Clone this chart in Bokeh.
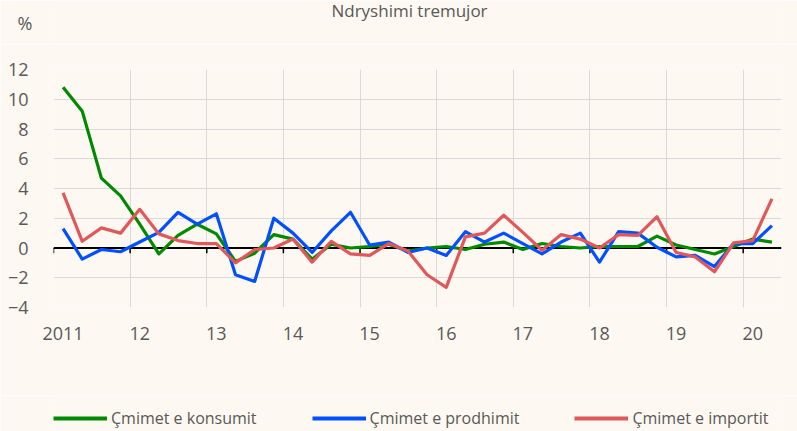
import numpy as np
from bokeh.plotting import figure
from bokeh.layouts import column
from bokeh.models import (Range1d, FixedTicker, Legend, LegendItem, Span, Label,
                          ColumnDataSource, LinearAxis)
from bokeh.embed import file_html
from bokeh.resources import INLINE

# ---- data -------------------------------------------------------------
years = ["2011", "12", "13", "14", "15", "16", "17", "18", "19", "20"]
quarters = [f"{2011 + i // 4}Q{i % 4 + 1}" for i in range(38)]

konsumit = [10.8, 9.2, 4.7, 3.5, 1.6, -0.4, 0.85, 1.6, 0.95, -0.9,
            -0.35, 0.9, 0.6, -0.75, 0.25, 0.0, 0.1, 0.25, -0.2, 0.0,
            0.1, -0.1, 0.25, 0.4, -0.1, 0.3, 0.1, 0.0, 0.1, 0.1,
            0.1, 0.8, 0.2, -0.1, -0.4, 0.1, 0.6, 0.4]
prodhimit = [1.3, -0.75, -0.1, -0.25, 0.4, 1.05, 2.4, 1.6, 2.3, -1.8,
             -2.25, 2.0, 1.0, -0.3, 1.15, 2.4, 0.2, 0.4, -0.3, 0.0,
             -0.5, 1.1, 0.4, 1.0, 0.3, -0.4, 0.4, 1.0, -0.95, 1.1,
             1.0, 0.05, -0.6, -0.5, -1.25, 0.3, 0.3, 1.5]
importit = [3.7, 0.45, 1.35, 1.0, 2.6, 0.95, 0.5, 0.3, 0.3, -1.0,
            -0.1, 0.0, 0.6, -0.95, 0.45, -0.4, -0.5, 0.3, -0.2, -1.8,
            -2.65, 0.75, 1.0, 2.2, 1.05, -0.15, 0.9, 0.6, 0.0, 0.9,
            0.85, 2.1, -0.3, -0.6, -1.6, 0.35, 0.5, 3.3]

series_names = ["Çmimet e konsumit", "Çmimet e prodhimit", "Çmimet e importit"]
series_colors = ["#008a00", "#0050ff", "#e0585b"]

title_text = "Ndryshimi tremujor"
unit_text = "%"

y_ticks = list(range(-4, 13, 2))

# ---- style ------------------------------------------------------------
BG = "#fdf8f1"
TXT = "#595959"
GRID = "#d9d9d9"
FONT = "Open Sans"
W = 797
LEFT, RIGHT = 53, 16          # frame borders (shared by the column)
TOP_H, MAIN_H, LEG_H = 44, 351, 36


def strip(height):
    # frames of a column are aligned, so x data units equal page pixels here
    f = figure(width=W, height=height, output_backend="svg", toolbar_location=None,
               x_axis_type=None, y_axis_type=None, min_border=0,
               min_border_left=LEFT, min_border_right=RIGHT,
               x_range=Range1d(LEFT, W - RIGHT), y_range=Range1d(height, 0))
    f.background_fill_color = BG
    f.border_fill_color = BG
    f.outline_line_color = None
    f.grid.visible = False
    return f


# ---- header: title and unit --------------------------------------------
top = strip(TOP_H)
top.add_layout(Label(x=409, y=10, text=title_text, text_font=FONT,
                     text_font_size="17px", text_color=TXT, text_align="center",
                     text_baseline="middle"))
unit_axis = LinearAxis(ticker=FixedTicker(ticks=[]), axis_label=unit_text,
                       axis_label_orientation="horizontal",
                       axis_label_standoff=21, axis_label_text_font=FONT,
                       axis_label_text_font_size="18px",
                       axis_label_text_font_style="normal",
                       axis_label_text_color=TXT, axis_line_color=None,
                       major_tick_line_color=None, minor_tick_line_color=None,
                       major_tick_out=0, major_label_standoff=0)
top.add_layout(unit_axis, "left")

# ---- main chart ---------------------------------------------------------
n = len(quarters)
x = np.arange(n)

p = figure(width=W, height=MAIN_H, output_backend="svg", toolbar_location=None,
           x_range=Range1d(-0.5, n - 0.5),
           y_range=Range1d(min(y_ticks), max(y_ticks)),
           min_border_left=LEFT, min_border_right=RIGHT, min_border_top=25,
           min_border_bottom=88)
p.background_fill_color = BG
p.border_fill_color = BG
p.outline_line_color = None

year_pos = [4 * i for i in range(len(years))]
p.xaxis.ticker = FixedTicker(ticks=year_pos)
p.xaxis.major_label_overrides = {pos: lab for pos, lab in zip(year_pos, years)}
p.xaxis.axis_line_color = None
p.xaxis.major_tick_line_color = None
p.xaxis.minor_tick_line_color = None
p.xaxis.major_label_standoff = 13
p.xaxis.major_label_text_font = FONT
p.xaxis.major_label_text_font_size = "18px"
p.xaxis.major_label_text_color = TXT

p.yaxis.ticker = FixedTicker(ticks=y_ticks)
p.yaxis.axis_line_color = None
p.yaxis.major_tick_line_color = None
p.yaxis.minor_tick_line_color = None
p.yaxis.major_label_standoff = 19
p.yaxis.major_label_text_font = FONT
p.yaxis.major_label_text_font_size = "18px"
p.yaxis.major_label_text_color = TXT

boundaries = [pos - 0.5 for pos in year_pos]
p.xgrid.ticker = FixedTicker(ticks=boundaries)
p.xgrid.grid_line_color = GRID
p.ygrid.grid_line_color = GRID

# zero axis line with year tick marks
p.add_layout(Span(location=0, dimension="width", line_color="black",
                  line_width=2, level="underlay"))
p.segment(x0=boundaries, x1=boundaries, y0=[0] * len(boundaries),
          y1=[-0.35] * len(boundaries), line_color="black", line_width=1.5)

data = [konsumit, prodhimit, importit]
sources = []
for name, vals, col in zip(series_names, data, series_colors):
    src = ColumnDataSource(dict(x=x, y=vals, q=quarters))
    sources.append(src)
    p.line("x", "y", source=src, line_color=col, line_width=3.2,
           line_join="round")

# ---- legend strip -------------------------------------------------------
# the series are re-used as legend keys; their x values fall outside this
# strip's pixel range, so only the legend samples show
leg = strip(LEG_H)
items = []
for name, src, col in zip(series_names, sources, series_colors):
    key = leg.line("x", "y", source=src, line_color=col, line_width=4)
    items.append(LegendItem(label=name, renderers=[key]))
legend = Legend(items=items, orientation="horizontal", location=(0, 2),
                label_text_font=FONT, label_text_font_size="16px",
                label_text_color=TXT, glyph_width=54, glyph_height=20,
                label_height=20, label_standoff=4, spacing=55, padding=0,
                margin=0, border_line_color=None, background_fill_alpha=0)
leg.add_layout(legend, "center")

layout = column(top, p, leg, spacing=0)
open("out.html", "w").write(file_html(layout, INLINE))
